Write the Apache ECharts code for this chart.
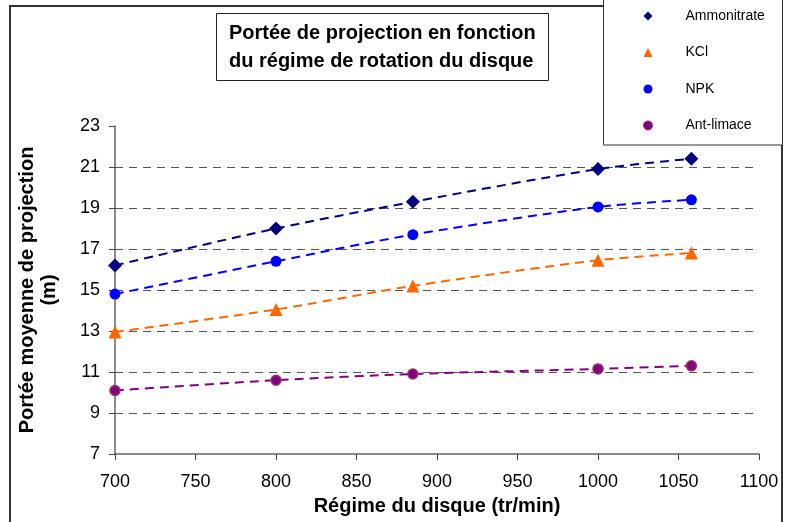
<!DOCTYPE html>
<html>
<head>
<meta charset="utf-8">
<script src="https://cdn.jsdelivr.net/npm/echarts@6/dist/echarts.min.js"></script>
<style>
  html, body { margin: 0; padding: 0; background: #fff; }
  #chart { width: 785px; height: 522px; }
</style>
</head>
<body>
<div id="chart"></div>
<script>
// régime du disque (tr/min)
var regimes = [700, 800, 885, 1000, 1058];
// portée moyenne (m)
var ammonitrate = [16.2, 18.0, 19.3, 20.9, 21.4];
var kcl = [12.95, 14.05, 15.2, 16.45, 16.8];
var npk = [14.8, 16.4, 17.7, 19.05, 19.4];
var antLimace = [10.1, 10.6, 10.9, 11.15, 11.3];

var seriesNames = ["Ammonitrate", "KCl", "NPK", "Ant-limace"];

function pairs(xs, ys) {
  return xs.map(function (x, i) { return [x, ys[i]]; });
}

var myChart = echarts.init(document.getElementById("chart"));

function makeSeries(name, values, color, symbol, size, border) {
  return {
    type: "line",
    name: name,
    data: pairs(regimes, values),
    smooth: 0.3,
    symbol: symbol,
    symbolSize: size,
    lineStyle: { color: color, width: 2, type: [9, 6] },
    itemStyle: { color: color, borderColor: border || color, borderWidth: border ? 1.5 : 0 },
    z: 3
  };
}

var option = {
  animation: false,
  textStyle: { fontFamily: "Liberation Sans, Arial, sans-serif" },
  graphic: [
    // cadre du graphique
    { type: "rect", shape: { x: 10, y: 6, width: 772, height: 540 },
      style: { fill: null, stroke: "#333", lineWidth: 2 }, z: 0 },
    // cadre de la légende
    { type: "rect", shape: { x: 603.5, y: -2, width: 179, height: 147 },
      style: { fill: "#fff", stroke: "#333", lineWidth: 1 }, z: 1 }
  ],
  title: {
    text: "Portée de projection en fonction\ndu régime de rotation du disque",
    left: 216,
    top: 13,
    padding: [6, 13, 6, 13],
    borderColor: "#222",
    borderWidth: 1,
    textStyle: { fontSize: 20, fontWeight: "bold", color: "#000", lineHeight: 28,
      fontFamily: "Liberation Sans, Arial, sans-serif" }
  },
  legend: {
    orient: "vertical",
    left: 638,
    top: 3,
    itemWidth: 9,
    itemHeight: 9,
    itemGap: 20.5,
    z: 5,
    textStyle: { fontSize: 14, color: "#000", lineHeight: 16, padding: [0, 0, 0, 28] },
    data: [
      { name: "Ammonitrate", icon: "diamond", itemStyle: { color: "#000080" } },
      { name: "KCl", icon: "triangle", itemStyle: { color: "#FF6600" } },
      { name: "NPK", icon: "circle", itemStyle: { color: "#0000FF" } },
      { name: "Ant-limace", icon: "circle", itemStyle: { color: "#800080", borderColor: "#993366", borderWidth: 1 } }
    ]
  },
  grid: { left: 115, right: 26, top: 126, bottom: 68 },
  xAxis: {
    type: "value",
    min: 700,
    max: 1100,
    interval: 50,
    name: "Régime du disque (tr/min)",
    nameLocation: "middle",
    nameGap: 42,
    nameTextStyle: { fontSize: 20, fontWeight: "bold", color: "#000" },
    axisLine: { show: true, onZero: false, lineStyle: { color: "#666", width: 1.5 } },
    axisTick: { show: true, length: 6, lineStyle: { color: "#444" } },
    axisLabel: { fontSize: 18, color: "#000", margin: 19,
      formatter: function (v) { return String(v); } },
    splitLine: { show: false }
  },
  yAxis: {
    type: "value",
    min: 7,
    max: 23,
    interval: 2,
    name: "Portée moyenne de projection\n(m)",
    nameLocation: "middle",
    nameGap: 55,
    nameTextStyle: { fontSize: 20, fontWeight: "bold", color: "#000", lineHeight: 22 },
    axisLine: { show: true, lineStyle: { color: "#666", width: 1.5 } },
    axisTick: { show: true, length: 6, lineStyle: { color: "#444" } },
    axisLabel: { fontSize: 18, color: "#000", margin: 15 },
    splitLine: { show: true, showMinLine: false, showMaxLine: false,
      lineStyle: { color: "#555", type: [8, 6], width: 1 } }
  },
  series: [
    makeSeries(seriesNames[0], ammonitrate, "#000080", "diamond", 14),
    makeSeries(seriesNames[1], kcl, "#FF6600", "triangle", 13),
    makeSeries(seriesNames[2], npk, "#0000FF", "circle", 11),
    makeSeries(seriesNames[3], antLimace, "#800080", "circle", 10, "#993366")
  ]
};

myChart.setOption(option);
</script>
</body>
</html>
